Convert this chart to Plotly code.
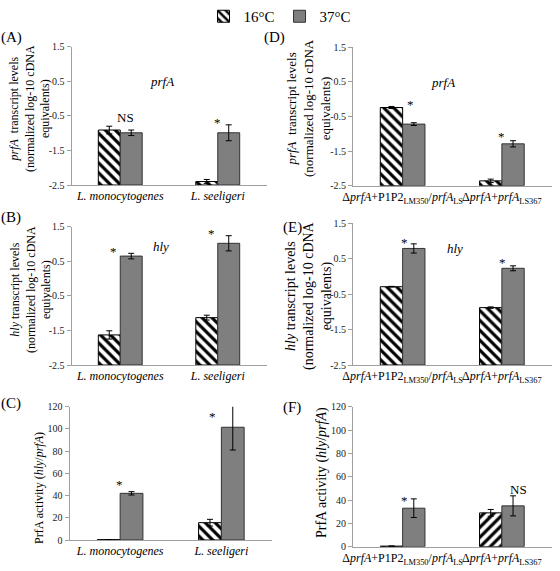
import plotly.graph_objects as go

# ---------------- data ----------------
strains_left = ["<i>L. monocytogenes</i>", "<i>L. seeligeri</i>"]
strains_right = ["Δ<i>prfA</i>+P1P2<sub>LM350</sub>/<i>prfA</i><sub>LS</sub>",
                 "Δ<i>prfA</i>+<i>prfA</i><sub>LS367</sub>"]
series_names = ["16°C", "37°C"]

# Panel A: prfA transcript (left strains)
prfA_left_16 = [-0.91, -2.40]
prfA_left_16_err = [0.11, 0.06]
prfA_left_37 = [-0.99, -0.99]
prfA_left_37_err = [0.08, 0.23]
# Panel B: hly transcript (left strains)
hly_left_16 = [-1.63, -1.13]
hly_left_16_err = [0.12, 0.07]
hly_left_37 = [0.65, 1.02]
hly_left_37_err = [0.08, 0.22]
# Panel C: PrfA activity (left strains)
act_left_16 = [0.3, 15.6]
act_left_16_err = [0.0, 3.0]
act_left_37 = [42.0, 101.5]
act_left_37_err = [1.5, 20.5]
# Panel D: prfA transcript (right strains)
prfA_right_16 = [-0.24, -2.36]
prfA_right_16_err = [0.03, 0.05]
prfA_right_37 = [-0.72, -1.29]
prfA_right_37_err = [0.04, 0.09]
# Panel E: hly transcript (right strains)
hly_right_16 = [-0.29, -0.88]
hly_right_16_err = [0.01, 0.02]
hly_right_37 = [0.79, 0.23]
hly_right_37_err = [0.13, 0.07]
# Panel F: PrfA activity (right strains)
act_right_16 = [0.5, 29.0]
act_right_16_err = [0.0, 2.9]
act_right_37 = [33.0, 35.0]
act_right_37_err = [8.0, 8.6]

log_ticks = [-2.5, -1.5, -0.5, 0.5, 1.5]
log_tick_labels = ["-2.5", "-1.5", "-0.5", "0.5", "1.5"]
act_ticks = [0, 20, 40, 60, 80, 100, 120]
act_tick_labels = ["0", "20", "40", "60", "80", "100", "120"]

# ---------------- styling ----------------
FONT = "Liberation Serif"
GRAY = "#7f7f7f"
EDGE = "#333333"
AXIS_COL = "#a0a0a0"

fig = go.Figure()

panels = [
    # (axis suffix, categories, v16, e16, v37, e37, base, hatch shapes)
    ("", strains_left, prfA_left_16, prfA_left_16_err, prfA_left_37, prfA_left_37_err, log_ticks[0], ["\\", "\\"]),
    ("2", strains_left, hly_left_16, hly_left_16_err, hly_left_37, hly_left_37_err, log_ticks[0], ["\\", "\\"]),
    ("3", strains_left, act_left_16, act_left_16_err, act_left_37, act_left_37_err, act_ticks[0], ["\\", "\\"]),
    ("4", strains_right, prfA_right_16, prfA_right_16_err, prfA_right_37, prfA_right_37_err, log_ticks[0], ["\\", "\\"]),
    ("5", strains_right, hly_right_16, hly_right_16_err, hly_right_37, hly_right_37_err, log_ticks[0], ["\\", "\\"]),
    ("6", strains_right, act_right_16, act_right_16_err, act_right_37, act_right_37_err, act_ticks[0], ["\\", "/"]),
]

for i, (sfx, cats, v16, e16, v37, e37, base, shapes) in enumerate(panels):
    first = i == 0
    fig.add_trace(go.Bar(
        x=cats, y=[v - base for v in v16], base=base,
        name=series_names[0], legendgroup="a", showlegend=first,
        marker=dict(color="white", line=dict(color="black", width=1),
                    pattern=dict(shape=shapes, fgcolor="black", bgcolor="white",
                                 size=7, solidity=0.45, fillmode="replace")),
        error_y=dict(type="data", array=e16, color="black", thickness=1, width=3,
                     visible=True),
        xaxis="x" + sfx, yaxis="y" + sfx,
    ))
    fig.add_trace(go.Bar(
        x=cats, y=[v - base for v in v37], base=base,
        name=series_names[1], legendgroup="b", showlegend=first,
        marker=dict(color=GRAY, line=dict(color=EDGE, width=1)),
        error_y=dict(type="data", array=e37, color="black", thickness=1, width=3),
        xaxis="x" + sfx, yaxis="y" + sfx,
    ))

# domains in paper fraction (width 560, height 571)
W, H = 560.0, 571.0
def xd(a, b):
    return [a / W, b / W]
def yd(top, bottom):
    return [1 - bottom / H, 1 - top / H]

dom = {
    "": (xd(71.5, 266.5), yd(46.7, 185.0)),
    "2": (xd(71.5, 266.5), yd(226.7, 365.0)),
    "3": (xd(69.5, 272.0), yd(406.7, 540.0)),
    "4": (xd(353.0, 551.5), yd(47.3, 185.7)),
    "5": (xd(353.0, 551.5), yd(223.3, 365.0)),
    "6": (xd(353.0, 551.5), yd(406.7, 546.7)),
}

layout = dict(
    width=560, height=571, autosize=False,
    margin=dict(l=0, r=0, t=0, b=0, pad=0),
    paper_bgcolor="white", plot_bgcolor="white",
    barmode="group", bargap=0.55, bargroupgap=0,
    font=dict(family=FONT, color="black"),
    showlegend=True,
    legend=dict(orientation="h", x=0.5, xanchor="center", y=1.0, yanchor="top",
                font=dict(family=FONT, size=15, color="black"),
                itemwidth=30, tracegroupgap=0, bgcolor="rgba(0,0,0,0)"),
)

for sfx, (xdom, ydom) in dom.items():
    is_act = sfx in ("3", "6")
    layout["xaxis" + sfx] = dict(
        domain=xdom, anchor="y" + sfx, type="category",
        showline=True, linecolor=AXIS_COL, linewidth=1,
        ticks="", showgrid=False, zeroline=False, tickangle=0, automargin=False,
        tickfont=dict(family=FONT, size=12, color="black"),
        fixedrange=True,
    )
    layout["yaxis" + sfx] = dict(
        domain=ydom, anchor="x" + sfx, automargin=False,
        range=[act_ticks[0], act_ticks[-1]] if is_act else [log_ticks[0], log_ticks[-1]],
        tickvals=act_ticks if is_act else log_ticks,
        ticktext=act_tick_labels if is_act else log_tick_labels,
        showline=True, linecolor=AXIS_COL, linewidth=1,
        ticks="outside", ticklen=4, tickcolor=AXIS_COL,
        showgrid=False, zeroline=False,
        tickfont=dict(family=FONT, size=10, color="#222"),
        fixedrange=True,
    )

fig.update_layout(**layout)

ann = []
def paper_text(x, y, text, size, angle=0):
    ann.append(dict(x=x / W, y=1 - y / H, xref="paper", yref="paper", text=text,
                    showarrow=False, textangle=angle, xanchor="center", yanchor="middle",
                    font=dict(family=FONT, size=size, color="black")))

def data_text(sfx, x, y, text, size):
    ann.append(dict(x=x, y=y, xref="x" + sfx, yref="y" + sfx, text=text, showarrow=False,
                    xanchor="center", yanchor="middle",
                    font=dict(family=FONT, size=size, color="black")))

# panel letters
paper_text(11, 37, "(A)", 15)
paper_text(274, 37, "(D)", 15)
paper_text(11, 217, "(B)", 15)
paper_text(292, 227, "(E)", 15)
paper_text(11, 403, "(C)", 15)
paper_text(292, 407, "(F)", 15)

# y-axis titles
paper_text(29, 109, "<i>prfA</i>  transcript levels<br>(normalized log-10 cDNA<br>equivalents)", 12, -90)
paper_text(30, 290, "<i>hly</i> transcript levels<br>(normalized log-10 cDNA<br>equivalents)", 12, -90)
paper_text(39, 488, "PrfA activity (<i>hly</i>/<i>prfA</i>)", 12, -90)
paper_text(309, 108, "<i>prfA</i>  transcript levels<br>(normalized log-10 cDNA<br>equivalents)", 13, -90)
paper_text(309, 296, "<i>hly</i> transcript levels<br>(normalized log-10 cDNA<br>equivalents)", 14, -90)
paper_text(322, 473, "PrfA activity (<i>hly</i>/<i>prfA</i>)", 14, -90)

# gene labels
data_text("", 0.43, 0.48, "<i>prfA</i>", 13)
data_text("4", 0.41, 0.48, "<i>prfA</i>", 13)
data_text("2", 0.42, 0.92, "<i>hly</i>", 13)
data_text("5", 0.53, 0.79, "<i>hly</i>", 13)

# significance marks
data_text("", 0.05, -0.54, "NS", 13)
data_text("", 1.0, -0.70, "*", 13)
data_text("2", -0.07, 0.78, "*", 13)
data_text("2", 0.94, 1.29, "*", 13)
data_text("3", -0.01, 50.0, "*", 13)
data_text("3", 0.91, 111.0, "*", 13)
data_text("4", 0.08, -0.14, "*", 13)
data_text("4", 1.0, -1.07, "*", 13)
data_text("5", 0.02, 0.96, "*", 13)
data_text("5", 1.01, 0.38, "*", 13)
data_text("6", 0.02, 40.0, "*", 13)
data_text("6", 1.17, 49.2, "NS", 13)

fig.update_layout(annotations=ann)

fig.write_html(
    "out.html",
    config={"displayModeBar": False},
    post_script="document.body.style.margin='0';document.body.style.overflow='hidden';",
)
